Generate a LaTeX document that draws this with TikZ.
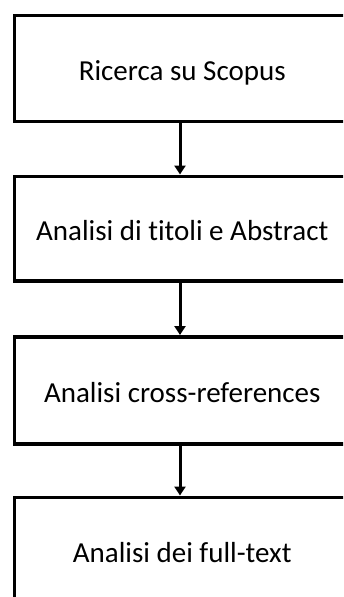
\documentclass[tikz,border=0pt]{standalone}
\usepackage{fontspec}
\setmainfont[Ligatures=NoCommon]{Carlito}
\usetikzlibrary{arrows.meta}
\begin{document}
\begin{tikzpicture}[x=1pt,y=-1pt,
  stepbox/.style={draw=black, line width=3.5pt, minimum width=336pt, minimum height=106pt,
    inner sep=0pt, font=\fontsize{29}{34}\selectfont, text height=23.7pt, text depth=0pt,
    anchor=north west},
  flow/.style={draw=black, line width=3pt, -{Triangle[width=11pt,length=9pt]}}]
  \useasboundingbox (0,0) rectangle (343,597);
  \clip (0,0) rectangle (343,597);
  \node[stepbox] (s1) at (12.5,13.5) {Ricerca su Scopus};
  \node[stepbox, minimum height=104.5pt] (s2) at (12.5,174.5) {Analisi di titoli e Abstract};
  \node[stepbox, minimum height=107pt] (s3) at (12.5,335) {Analisi cross-references};
  \node[stepbox] (s4) at (12.5,495.5) {Analisi dei full-text};
  \draw[flow] (s1.south -| 180,0) -- (s2.north -| 180,0);
  \draw[flow] (s2.south -| 180,0) -- (s3.north -| 180,0);
  \draw[flow] (s3.south -| 180,0) -- (s4.north -| 180,0);
\end{tikzpicture}
\end{document}
